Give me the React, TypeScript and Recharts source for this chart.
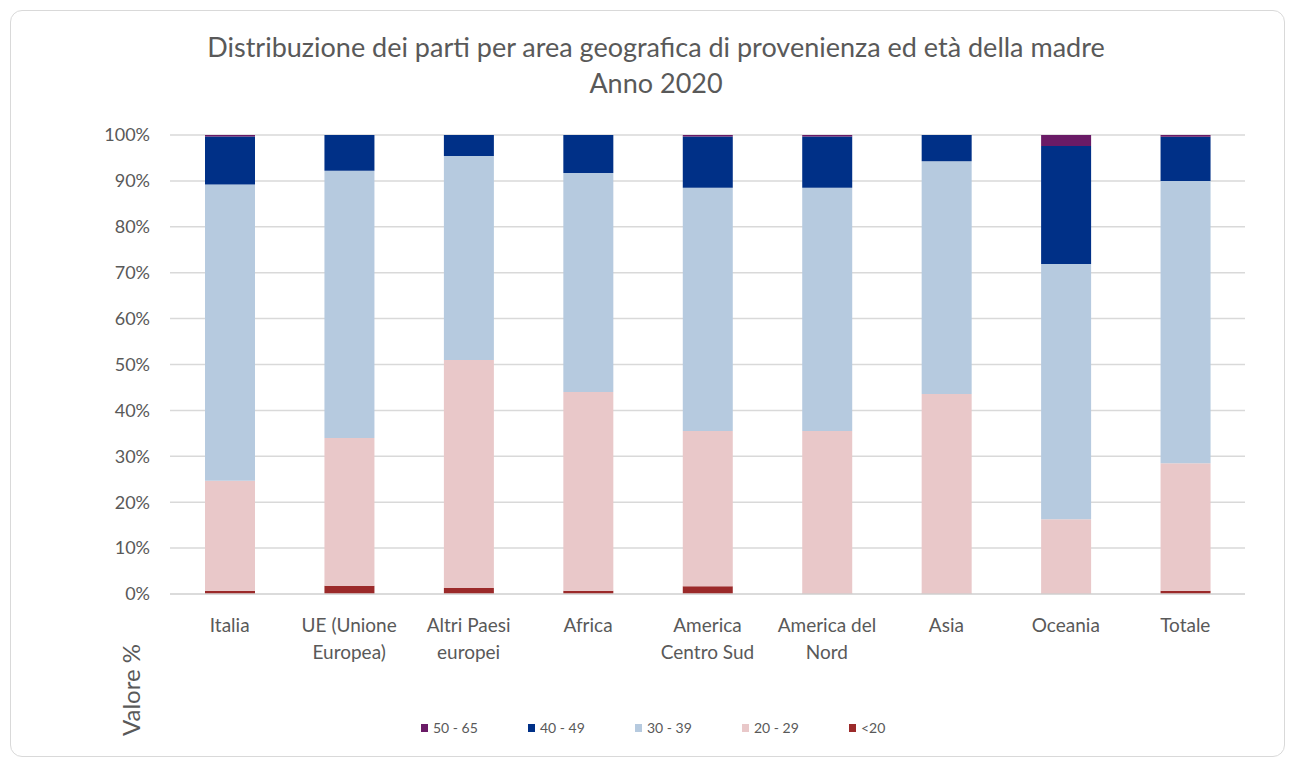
import { BarChart, Bar, XAxis, YAxis, CartesianGrid } from 'recharts'

const AREE = [
  'Italia',
  'UE (Unione\nEuropea)',
  'Altri Paesi\neuropei',
  'Africa',
  'America\nCentro Sud',
  'America del\nNord',
  'Asia',
  'Oceania',
  'Totale',
]

// percentuali per classe di età della madre
const MENO_20 = [0.7, 1.8, 1.3, 0.7, 1.7, 0.1, 0.1, 0.1, 0.7]
const ETA_20_29 = [24.0, 32.2, 49.7, 43.3, 33.8, 35.4, 43.5, 16.2, 27.8]
const ETA_30_39 = [64.5, 58.2, 44.4, 47.7, 53.0, 53.0, 50.7, 55.6, 61.5]
const ETA_40_49 = [10.5, 7.8, 4.6, 8.3, 11.2, 11.2, 5.7, 25.7, 9.6]
const ETA_50_65 = [0.3, 0.0, 0.0, 0.0, 0.3, 0.3, 0.0, 2.4, 0.4]

const Y_TICKS = [0, 0.1, 0.2, 0.3, 0.4, 0.5, 0.6, 0.7, 0.8, 0.9, 1]

const SERIE = [
  { key: 'e5065', label: '50 - 65', color: '#6a1b66' },
  { key: 'e4049', label: '40 - 49', color: '#003087' },
  { key: 'e3039', label: '30 - 39', color: '#b6cadf' },
  { key: 'e2029', label: '20 - 29', color: '#e9c8c9' },
  { key: 'e20', label: '<20', color: '#9b2a2a' },
]

const data = AREE.map((area, i) => ({
  area,
  e20: MENO_20[i],
  e2029: ETA_20_29[i],
  e3039: ETA_30_39[i],
  e4049: ETA_40_49[i],
  e5065: ETA_50_65[i],
}))

const FONT = 'Lato, "Open Sans", sans-serif'
const TEXT = '#595959'

function AreaTick({ x, y, payload }: any) {
  const lines = String(payload.value).split('\n')
  return (
    <text x={x} y={y} textAnchor="middle" fill={TEXT} fontSize={19} fontFamily={FONT}>
      {lines.map((l, i) => (
        <tspan key={i} x={x} dy={i === 0 ? 30 : 27}>{l}</tspan>
      ))}
    </text>
  )
}

function LegendaEta() {
  return (
    <div
      style={{
        position: 'absolute', left: 421, top: 719, display: 'flex',
        fontFamily: FONT, fontSize: 14, color: TEXT,
      }}
    >
      {SERIE.map((s) => (
        <span key={s.key} style={{ display: 'flex', alignItems: 'center', gap: 5, width: 107 }}>
          <span style={{ width: 7, height: 8, background: s.color, display: 'inline-block' }} />
          {s.label}
        </span>
      ))}
    </div>
  )
}

export default function App() {
  return (
    <div style={{ position: 'absolute', left: 0, top: 0, width: 1295, height: 764, background: '#fff' }}>
      <div
        style={{
          position: 'absolute', left: 10, top: 10, width: 1273, height: 745,
          border: '1px solid #d9d9d9', borderRadius: 12,
        }}
      />
      <div
        style={{
          position: 'absolute', left: 0, top: 29, width: 1312, textAlign: 'center',
          fontFamily: FONT, fontSize: 27, lineHeight: '36px', color: TEXT,
        }}
      >
        Distribuzione dei parti per area geografica di provenienza ed età della madre
        <br />
        Anno 2020
      </div>
      <div
        style={{
          position: 'absolute', left: 130, top: 690, transform: 'translate(-50%, -50%) rotate(-90deg)',
          fontFamily: FONT, fontSize: 24, color: TEXT, whiteSpace: 'nowrap',
        }}
      >
        Valore %
      </div>
      <div style={{ position: 'absolute', left: 0, top: 0 }}>
        <BarChart
          width={1295}
          height={764}
          data={data}
          stackOffset="expand"
          margin={{ top: 135, right: 50, bottom: 110, left: 90 }}
          barSize={50}
        >
          <CartesianGrid vertical={false} stroke="#d9d9d9" strokeWidth={1.5} />
          <XAxis
            dataKey="area"
            interval={0}
            tickLine={false}
            axisLine={{ stroke: '#d9d9d9', strokeWidth: 1.5 }}
            tick={<AreaTick />}
            height={60}
          />
          <YAxis
            width={80}
            domain={[0, 1]}
            ticks={Y_TICKS}
            tickFormatter={(v: number) => `${Math.round(v * 100)}%`}
            axisLine={false}
            tickLine={false}
            tickMargin={14}
            tick={{ fill: TEXT, fontSize: 18, fontFamily: FONT }}
          />
          {[...SERIE].reverse().map((s) => (
            <Bar key={s.key} dataKey={s.key} name={s.label} stackId="a" fill={s.color} isAnimationActive={false} />
          ))}
        </BarChart>
      </div>
      <LegendaEta />
    </div>
  )
}
